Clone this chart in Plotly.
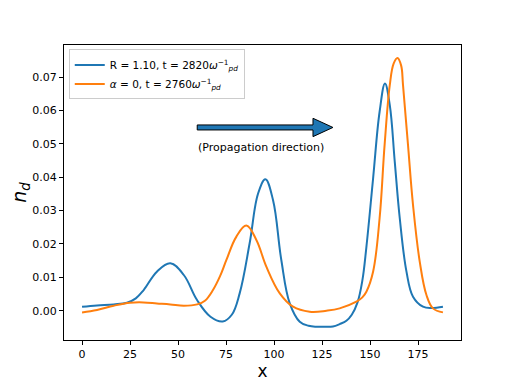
import plotly.graph_objects as go

# Blue curve: R = 1.10, t = 2820
blue_x = [0, 7.8, 16.5, 23.4, 28, 32.1, 39, 46, 53, 59.9, 66.9, 73.3, 78, 82.1, 87.3, 91.7, 95.5,
          99.5, 103.8, 108.2, 113.4, 118, 122, 126, 130.7, 134.2, 137.7, 140.5, 143.5, 146, 148.1,
          151.6, 155, 157.8, 160.3, 162.9, 165.5, 169, 172.4, 177.6, 182, 188]
blue_y = [0.0012, 0.0016, 0.0019, 0.0024, 0.0037, 0.0062, 0.0117, 0.0142, 0.0107, 0.0032, -0.0018,
          -0.0032, -0.0012, 0.0052, 0.0202, 0.0351, 0.0394, 0.0331, 0.0152, 0.0022, -0.0033, -0.0045,
          -0.0048, -0.0048, -0.0047, -0.0040, -0.0030, -0.0012, 0.0025, 0.0090, 0.0190, 0.0396,
          0.0596, 0.0681, 0.0616, 0.0446, 0.0277, 0.0117, 0.0042, 0.0012, 0.0008, 0.0012]

# Orange curve: alpha = 0, t = 2760
orange_x = [0, 7.8, 16.5, 25, 32, 39, 46, 53, 60, 64, 68.2, 72, 75.2, 80.4, 85.6, 90.8, 96, 103,
            109.9, 118.6, 127.3, 134.2, 142.9, 146, 148.1, 151.6, 155, 157.6, 160.3, 162.3, 164.3,
            166.2, 167.2, 169.8, 172.4, 175.9, 179.4, 182.8, 188]
orange_y = [-0.0005, 0.0002, 0.0015, 0.0024, 0.0025, 0.0022, 0.0019, 0.0015, 0.0019, 0.0030, 0.0062,
            0.0105, 0.0152, 0.0222, 0.0255, 0.0212, 0.0132, 0.0052, 0.0012, -0.0003, 0.0000, 0.0007,
            0.0027, 0.0040, 0.0057, 0.0117, 0.0277, 0.0496, 0.0676, 0.0740, 0.0757, 0.0735, 0.0676,
            0.0496, 0.0317, 0.0147, 0.0047, 0.0007, -0.0005]

x_ticks = [0, 25, 50, 75, 100, 125, 150, 175]
y_ticks = [0.00, 0.01, 0.02, 0.03, 0.04, 0.05, 0.06, 0.07]

# Arrow (propagation direction) in data units
arrow_x0, arrow_dx, arrow_y = 60, 70.7, 0.0549
arrow_w, arrow_hw, arrow_hl = 0.0015, 0.0055, 10.4
arrow_label = "(Propagation direction)"
label_x, label_y = 93, 0.0490

BLUE = "#1f77b4"
ORANGE = "#ff7f0e"
FONT = "DejaVu Sans"

fig = go.Figure()
fig.add_trace(go.Scatter(
    x=blue_x, y=blue_y, mode="lines", line=dict(color=BLUE, width=2, shape="spline", smoothing=1.1),
    name="R = 1.10, t = 2820<i>ω</i><sup>−1</sup><sub><i>pd</i></sub>"))
fig.add_trace(go.Scatter(
    x=orange_x, y=orange_y, mode="lines", line=dict(color=ORANGE, width=2, shape="spline", smoothing=1.1),
    name="<i>α</i> = 0, t = 2760<i>ω</i><sup>−1</sup><sub><i>pd</i></sub>"))

xe = arrow_x0 + arrow_dx
xb = xe - arrow_hl
path = (f"M {arrow_x0},{arrow_y - arrow_w/2} L {xb},{arrow_y - arrow_w/2} "
        f"L {xb},{arrow_y - arrow_hw/2} L {xe},{arrow_y} L {xb},{arrow_y + arrow_hw/2} "
        f"L {xb},{arrow_y + arrow_w/2} L {arrow_x0},{arrow_y + arrow_w/2} Z")
fig.add_shape(type="path", path=path, xref="x", yref="y",
              fillcolor=BLUE, line=dict(color="black", width=1))
fig.add_annotation(x=label_x, y=label_y, xref="x", yref="y", text=arrow_label,
                   showarrow=False, font=dict(family=FONT, size=11, color="black"))

axis_common = dict(showline=True, linecolor="black", linewidth=1, mirror=True, ticks="outside",
                   ticklen=4, tickcolor="black", showgrid=False, zeroline=False, automargin=False,
                   tickfont=dict(family=FONT, size=11, color="black"))
fig.update_xaxes(range=[-9.4, 197.4], tickvals=x_ticks, ticktext=[str(v) for v in x_ticks],
                 title=dict(text="x", font=dict(family=FONT, size=17, color="black"), standoff=4),
                 **axis_common)
fig.update_yaxes(range=[-0.00877, 0.0796], tickvals=y_ticks, ticktext=[f"{v:.2f}" for v in y_ticks],
                 title=dict(text="<i>n</i><sub><i>d</i></sub>", font=dict(family=FONT, size=19, color="black"),
                            standoff=6),
                 **axis_common)
# page body has an 8px default margin, so the figure is 504x375 and offset by 8px
fig.update_layout(
    width=504, height=375, plot_bgcolor="white", paper_bgcolor="white",
    margin=dict(l=56, r=51, t=37, b=43, autoexpand=False),
    font=dict(family=FONT, color="black"),
    legend=dict(x=0.012, y=0.985, xanchor="left", yanchor="top", bgcolor="rgba(255,255,255,0.8)",
                bordercolor="#cccccc", borderwidth=1, font=dict(family=FONT, size=10.5, color="black"),
                itemwidth=30, tracegroupgap=0),
)
fig.write_html("out.html")
